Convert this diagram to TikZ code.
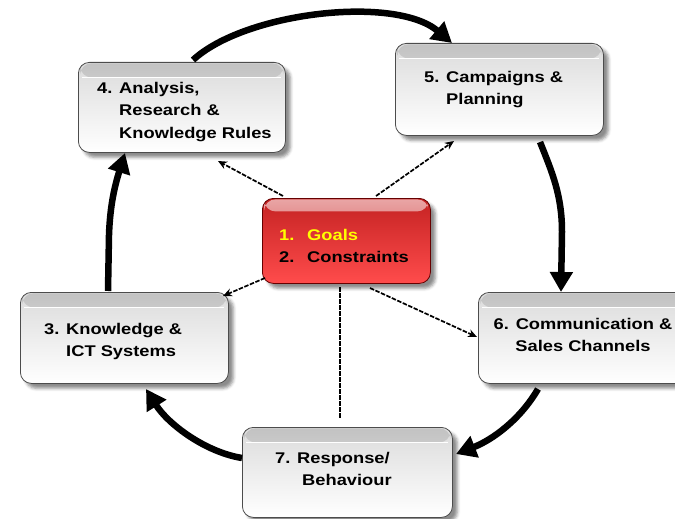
\documentclass[tikz,border=0pt]{standalone}
\usepackage{fontspec}
\newfontfamily\lab{Liberation Sans}[FakeStretch=1.18]
\usetikzlibrary{arrows.meta,shadows.blur}
\definecolor{RedTop}{HTML}{C42222}
\definecolor{RedBot}{HTML}{FF4C4C}
\definecolor{RedBandT}{HTML}{E9A6A6}
\definecolor{RedBandB}{HTML}{D03636}
\definecolor{Gold}{HTML}{FFFF00}
\begin{document}
\begin{tikzpicture}[x=1pt,y=-1pt,
  gbox/.style={draw=gray!60!black, line width=0.8pt, rounded corners=11pt,
    top color=gray!28, bottom color=white, anchor=north west, inner sep=0pt,
    blur shadow={shadow xshift=5pt, shadow yshift=-5pt, shadow blur radius=3pt, shadow opacity=45},
    path picture={
      \shade[top color=gray!48, bottom color=gray!14]
        ([xshift=2pt,yshift=-1pt]path picture bounding box.north west) rectangle ([xshift=-2pt,yshift=-15pt]path picture bounding box.north east);
      \draw[sharp corners, white, line width=1.4pt]
        ([xshift=4pt,yshift=-15pt]path picture bounding box.north west) -- ([xshift=-4pt,yshift=-15pt]path picture bounding box.north east);
    }},
  rbox/.style={gbox, draw=red!40!black, top color=RedTop, bottom color=RedBot,
    path picture={
      \shade[top color=RedBandT, bottom color=RedBandB]
        ([xshift=2pt,yshift=-1pt]path picture bounding box.north west) rectangle ([xshift=-2pt,yshift=-13pt]path picture bounding box.north east);
    }},
  txt/.style={font=\lab\bfseries\fontsize{15.5}{22.5}\selectfont, inner sep=0pt, align=left, anchor=west},
  thick arrow/.style={line width=6.5pt, -{Triangle[length=20pt,width=22pt]}},
  dash arrow/.style={line width=1.7pt, dash pattern=on 4.5pt off 1.5pt, -{Stealth[length=9pt,width=8pt]}},
  dash line/.style={line width=1.7pt, dash pattern=on 4.5pt off 1.5pt}
]
\useasboundingbox (0,0) rectangle (675,519);

% boxes
\node[gbox, minimum width=207pt, minimum height=90pt] (b4) at (78,62) {};
\node[gbox, minimum width=208pt, minimum height=92pt] (b5) at (395,43) {};
\node[gbox, minimum width=208pt, minimum height=91pt] (b3) at (20,292) {};
\node[gbox, minimum width=210pt, minimum height=91pt] (b6) at (478,292) {};
\node[gbox, minimum width=210pt, minimum height=90pt] (b7) at (242,427) {};
\node[rbox, minimum width=168pt, minimum height=85pt] (b1) at (262,198) {};

% texts
\node[txt] (t4) at (97,112) {4. Analysis,\\\phantom{4. }Research \&\\\phantom{4. }Knowledge Rules};
\node[txt] (t5) at (424,89.5) {5. Campaigns \&\\\phantom{5. }Planning};
\node[txt] (t3) at (44,341.5) {3. Knowledge \&\\\phantom{3. }ICT Systems};
\node[txt, align=center, anchor=center] (t6) at (583,335) {6. Communication \&\\Sales Channels};
\node[txt] (t7) at (275,469) {7. Response/\\\hspace{27pt}Behaviour};
\node[txt] (t1) at (279,246) {\makebox[28pt][l]{\color{Gold}1.}\textcolor{Gold}{Goals}\\\makebox[28pt][l]{2.}Constraints};

% connector end points
\coordinate (a4s) at (193,60);
\coordinate (a5e) at (452,43);
\coordinate (a5s) at (540,142);
\coordinate (a6e) at (561,292);
\coordinate (a6s) at (538,389);
\coordinate (a7e) at (456,454);
\coordinate (a7s) at (242,458);
\coordinate (a3e) at (146,389);
\coordinate (a3s) at (108,291);
\coordinate (a4e) at (125,153);

% thick cycle arrows
\draw[thick arrow] (a4s) .. controls (245,12) and (395,-5) .. (a5e);
\draw[thick arrow] (a5s) .. controls (552,172) and (562,195) .. (562,232) -- (a6e);
\draw[thick arrow] (a6s) .. controls (520,420) and (492,440) .. (a7e);
\draw[thick arrow] (a7s) .. controls (205,452) and (168,424) .. (a3e);
\draw[thick arrow] (a3s) -- (109,235) .. controls (110,205) and (115,185) .. (a4e);

% dashed connectors from the centre
\coordinate (d4s) at (283,196);
\coordinate (d4e) at (218,161);
\coordinate (d5s) at (376,196);
\coordinate (d5e) at (454,141);
\coordinate (d3s) at (265,278);
\coordinate (d3e) at (223,296);
\coordinate (d6s) at (370,288);
\coordinate (d6e) at (477,337);
\coordinate (d7s) at (340,287);
\coordinate (d7e) at (340,418);
\draw[dash arrow] (d4s) -- (d4e);
\draw[dash arrow] (d5s) -- (d5e);
\draw[dash arrow] (d3s) -- (d3e);
\draw[dash arrow] (d6s) -- (d6e);
\draw[dash line] (d7s) -- (d7e);
\end{tikzpicture}
\end{document}
